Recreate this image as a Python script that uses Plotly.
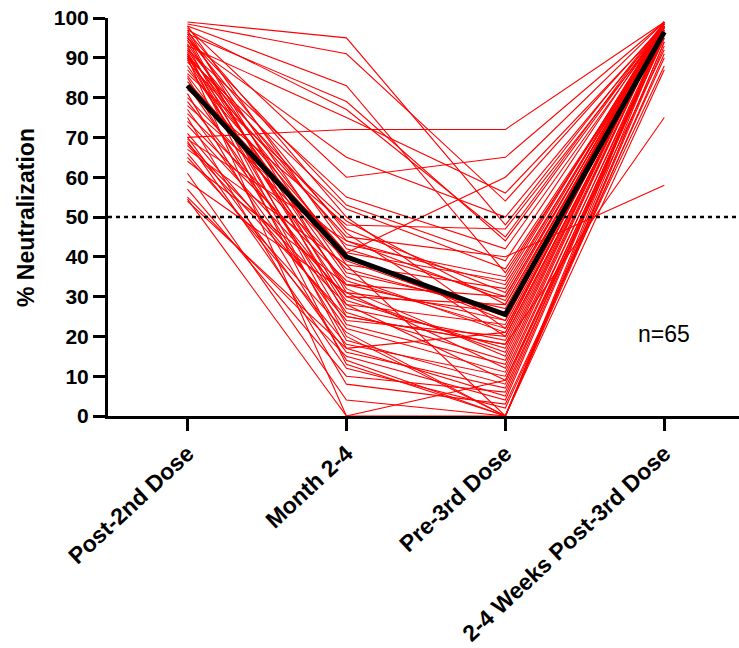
import plotly.graph_objects as go

categories = ["Post-2nd Dose", "Month 2-4", "Pre-3rd Dose", "2-4 Weeks Post-3rd Dose"]

# one value per participant (n=65), aligned by index
post_2nd = [99, 98.5, 98, 98, 97.5, 97, 97, 96.5, 96, 96, 95.5, 95, 95, 94.5, 94, 93.5,
            93, 93, 92.5, 92, 92, 91.5, 91, 91, 90.5, 90.5, 90, 90, 90, 89.5, 89, 88,
            87, 86, 85.5, 85, 84, 83, 82, 81, 80, 79, 78, 77, 76, 75, 74, 70, 71, 73,
            70, 69.5, 69, 68.5, 68, 67, 66, 65, 64, 61, 59, 57, 55, 54.5, 54]
month_2_4 = [95, 91, 42, 83, 60, 31, 77, 50, 38, 79, 25, 53, 46, 28, 65, 36,
             75, 20, 44, 32, 55, 17, 40, 13, 47, 27, 52, 0, 35, 23, 45, 30,
             41, 49, 33, 19, 41, 26, 48, 14, 39, 29, 43, 22, 37, 8, 34, 72, 24, 30,
             16, 44, 12, 28, 25, 38, 18, 21, 33, 4, 31, 10, 15, 0, 17]
pre_3rd = [48, 54, 30, 36, 65, 12, 45, 22, 0, 44, 18, 39, 20, 9, 50, 27,
           56, 0, 33, 15, 42, 5, 24, 0, 31, 19, 37, 9, 21, 13, 40, 16,
           60, 28, 24, 8, 34, 14, 47, 0, 25, 17, 35, 11, 26, 3, 22, 72, 20, 28,
           7, 29, 2, 23, 18, 32, 10, 0, 30, 0, 26, 6, 4, 0, 21]
post_3rd = [99, 98.5, 98, 97, 99, 98, 99, 97.5, 96, 98.5, 98, 99, 97, 95, 98, 99,
            98, 94, 97.5, 99, 98, 96.5, 98, 93, 99, 98, 97, 92, 99, 98, 58, 98.5,
            99, 97, 98, 96, 99, 98, 97.5, 91, 99, 98, 98.5, 96, 99, 88, 98, 99, 97, 98,
            95, 99, 90, 98, 75, 99, 97, 87, 98, 94, 98, 97, 96.5, 98, 99]

mean_line = [83, 40, 25.5, 96.5]
threshold = 50
n_label = "n=65"

xs = list(range(len(categories)))
fig = go.Figure()

for a, b, c, d in zip(post_2nd, month_2_4, pre_3rd, post_3rd):
    fig.add_trace(go.Scatter(x=xs, y=[a, b, c, d], mode="lines",
                             line=dict(color="#ff0000", width=1.1), hoverinfo="skip"))

fig.add_trace(go.Scatter(x=[-0.5, 3.47], y=[threshold, threshold], mode="lines",
                         line=dict(color="black", width=2.5, dash="4px,4px"), hoverinfo="skip"))

fig.add_trace(go.Scatter(x=xs, y=mean_line, mode="lines",
                         line=dict(color="black", width=5), hoverinfo="skip"))

font_family = "Arial, Liberation Sans, Helvetica, sans-serif"

fig.update_layout(
    width=739, height=648,
    margin=dict(l=108, r=0, t=18, b=232),
    paper_bgcolor="white", plot_bgcolor="white",
    showlegend=False,
    font=dict(family=font_family, color="black"),
    xaxis=dict(
        range=[-0.5, 3.47], tickmode="array", tickvals=xs, ticktext=categories,
        tickangle=-43, tickfont=dict(size=23, weight="bold", family=font_family),
        showline=True, linecolor="black", linewidth=3,
        ticks="outside", ticklen=12, tickwidth=3, tickcolor="black",
        showgrid=False, zeroline=False, automargin=False,
    ),
    yaxis=dict(
        range=[0, 100], tickmode="array", tickvals=list(range(0, 101, 10)),
        tickfont=dict(size=21, weight="bold", family=font_family),
        ticklabeloverflow="allow",
        showline=True, linecolor="black", linewidth=3,
        ticks="outside", ticklen=12, tickwidth=3, tickcolor="black",
        showgrid=False, zeroline=False, automargin=False,
    ),
    annotations=[
        dict(text="% Neutralization", textangle=-90, xref="paper", yref="paper",
             x=-0.13, y=0.5, xanchor="center", yanchor="middle", showarrow=False,
             font=dict(size=23, weight="bold", family=font_family)),
        dict(text=n_label, xref="x", yref="y", x=3.0, y=20.5, xanchor="center",
             yanchor="middle", showarrow=False, font=dict(size=23, family=font_family)),
    ],
)

fig.write_html("out.html", config={"displayModeBar": False},
               post_script="document.body.style.margin='0';document.body.style.overflow='hidden';")
